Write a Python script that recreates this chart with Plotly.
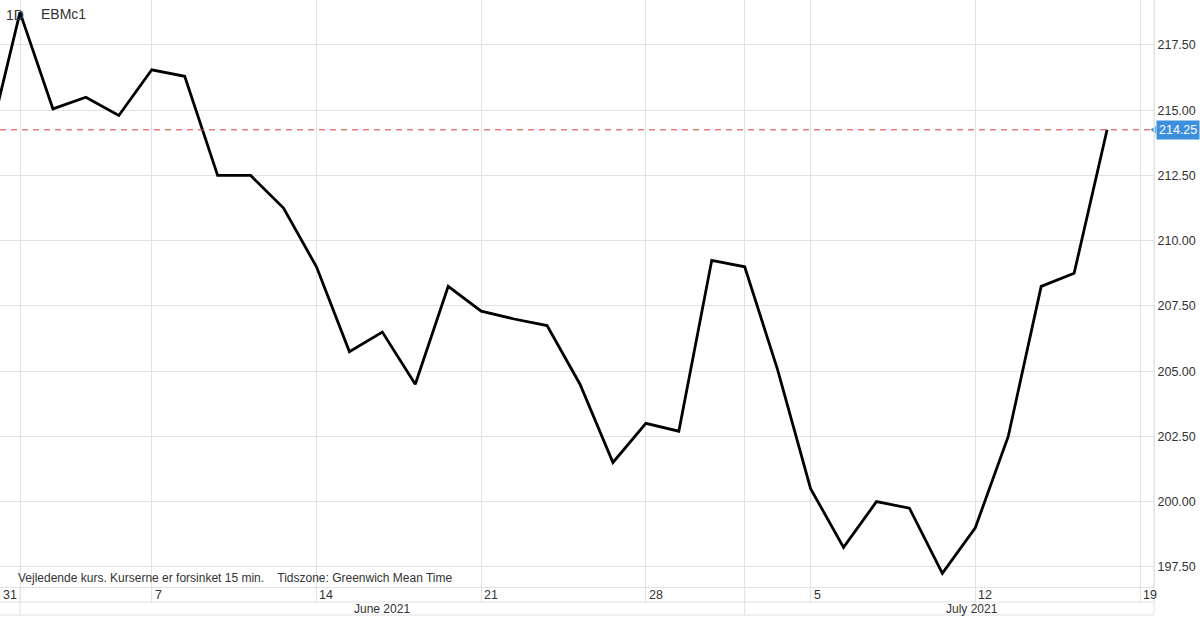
import plotly.graph_objects as go

# ---------------- data ----------------
dates = ["2021-05-28", "2021-06-01", "2021-06-02", "2021-06-03", "2021-06-04",
         "2021-06-07", "2021-06-08", "2021-06-09", "2021-06-10", "2021-06-11",
         "2021-06-14", "2021-06-15", "2021-06-16", "2021-06-17", "2021-06-18",
         "2021-06-21", "2021-06-22", "2021-06-23", "2021-06-24", "2021-06-25",
         "2021-06-28", "2021-06-29", "2021-06-30", "2021-07-01", "2021-07-02",
         "2021-07-05", "2021-07-06", "2021-07-07", "2021-07-08", "2021-07-09",
         "2021-07-12", "2021-07-13", "2021-07-14", "2021-07-15", "2021-07-16"]
prices = [213.5, 218.75, 215.05, 215.5, 214.8,
          216.55, 216.3, 212.5, 212.5, 211.25,
          209.0, 205.75, 206.5, 204.5, 208.25,
          207.3, 207.0, 206.75, 204.5, 201.5,
          203.0, 202.7, 209.25, 209.0, 205.05,
          200.5, 198.25, 200.0, 199.75, 197.25,
          199.0, 202.5, 208.25, 208.75, 214.25]

week_dates = ["2021-06-01", "2021-06-07", "2021-06-14", "2021-06-21",
              "2021-06-28", "2021-07-05", "2021-07-12", "2021-07-19"]
week_labels = ["31", "7", "14", "21", "28", "5", "12", "19"]
month_dates = ["2021-06-01", "2021-07-01"]
month_labels = ["June 2021", "July 2021"]
y_ticks = [197.5, 200.0, 202.5, 205.0, 207.5, 210.0, 212.5, 215.0, 217.5]
symbol = "EBMc1"
interval = "1D"
footnote = "Vejledende kurs. Kurserne er forsinket 15 min.    Tidszone: Greenwich Mean Time"


def trading_index(d):
    # position on a trading-day axis (weekends / holidays removed)
    return sum(1 for x in dates if x < d)


xs = [trading_index(d) for d in dates]
week_pos = [trading_index(d) for d in week_dates]
month_pos = [trading_index(d) for d in month_dates]
last_price = prices[-1]

# ---------------- styling ----------------
FONT = "Liberation Sans, Arial, Helvetica, sans-serif"
GRID = "#e2e2e2"
TXT = "#333333"
BLUE = "#3b8fdc"
X_RANGE = [0.393, 35.425]
Y_RANGE = [196.73, 219.224]
PLOT_H = 587.0

fig = go.Figure()
fig.add_trace(go.Scatter(
    x=xs, y=prices, mode="lines",
    line=dict(color="#000000", width=2.8),
    hoverinfo="skip", showlegend=False,
))
# small pointer of the last price tag
fig.add_trace(go.Scatter(
    x=[X_RANGE[1]], y=[last_price], mode="markers",
    marker=dict(symbol="triangle-left", size=7, color=BLUE),
    cliponaxis=False, hoverinfo="skip", showlegend=False,
))

shapes = [
    # last price dashed line
    dict(type="line", xref="paper", x0=0, x1=1, yref="y", y0=last_price, y1=last_price,
         line=dict(color="#d4403a", width=1, dash="6px,5px"), layer="above"),
    # rows of the date axis
    dict(type="line", xref="paper", x0=0, x1=1, yref="paper", y0=-15 / PLOT_H, y1=-15 / PLOT_H,
         line=dict(color=GRID, width=1)),
    dict(type="line", xref="paper", x0=0, x1=1, yref="paper", y0=-28 / PLOT_H, y1=-28 / PLOT_H,
         line=dict(color=GRID, width=1)),
    dict(type="line", xref="paper", x0=1, x1=1, yref="paper", y0=-28 / PLOT_H, y1=1,
         line=dict(color=GRID, width=1)),
]
for mp in month_pos:
    shapes.append(dict(type="line", xref="x", x0=mp, x1=mp, yref="paper",
                       y0=-28 / PLOT_H, y1=0, line=dict(color=GRID, width=1)))

annotations = []
for i, (p, lab) in enumerate(zip(week_pos, week_labels)):
    if i == 0:
        annotations.append(dict(xref="paper", x=0, xanchor="left", xshift=1,
                                yref="paper", y=-7.5 / PLOT_H, yanchor="middle",
                                text=lab, showarrow=False,
                                font=dict(family=FONT, size=12.5, color=TXT)))
    else:
        annotations.append(dict(xref="x", x=p, xanchor="left", xshift=1,
                                yref="paper", y=-7.5 / PLOT_H, yanchor="middle",
                                text=lab, showarrow=False,
                                font=dict(family=FONT, size=12.5, color=TXT)))

month_centers = [(month_pos[0] + month_pos[1]) / 2.0, 29.9]
for c, lab in zip(month_centers, month_labels):
    annotations.append(dict(xref="x", x=c, xanchor="center",
                            yref="paper", y=-21.5 / PLOT_H, yanchor="middle",
                            text=lab, showarrow=False,
                            font=dict(family=FONT, size=12, color=TXT)))

annotations += [
    dict(xref="paper", x=0, xanchor="left", xshift=4, yref="paper", y=1 - 15 / PLOT_H,
         yanchor="middle", text=interval, showarrow=False,
         font=dict(family=FONT, size=14, color=TXT)),
    dict(xref="paper", x=0, xanchor="left", xshift=39, yref="paper", y=1 - 14 / PLOT_H,
         yanchor="middle", text=symbol, showarrow=False,
         font=dict(family=FONT, size=14, color=TXT)),
    dict(xref="paper", x=0, xanchor="left", xshift=16, yref="paper", y=9 / PLOT_H,
         yanchor="middle", text=footnote, showarrow=False,
         font=dict(family=FONT, size=12, color=TXT)),
    dict(xref="paper", x=1, xanchor="left", xshift=2, yref="y", y=last_price,
         yanchor="middle", text=f"{last_price:.2f}", showarrow=False,
         bgcolor=BLUE, borderpad=2,
         font=dict(family=FONT, size=12.5, color="#ffffff")),
]

fig.update_layout(
    width=1200, height=617,
    margin=dict(l=0, r=46, t=0, b=30),
    paper_bgcolor="#ffffff", plot_bgcolor="#ffffff",
    font=dict(family=FONT, size=12.5, color=TXT),
    shapes=shapes, annotations=annotations,
    showlegend=False,
    xaxis=dict(range=X_RANGE, tickvals=sorted(set(week_pos + month_pos)),
               showticklabels=False, showgrid=True, gridcolor=GRID, gridwidth=1,
               ticks="outside", ticklen=15, tickcolor=GRID, tickwidth=1,
               showline=True, linecolor=GRID, zeroline=False, fixedrange=True),
    yaxis=dict(range=Y_RANGE, side="right", tickvals=y_ticks,
               ticktext=[f"{v:.2f}" for v in y_ticks],
               showgrid=True, gridcolor=GRID, gridwidth=1, ticks="",
               showline=True, linecolor=GRID, zeroline=False, fixedrange=True,
               tickfont=dict(family=FONT, size=12.5, color=TXT)),
)

fig.write_html("out.html", config={"displayModeBar": False},
               post_script="document.body.style.margin='0';document.body.style.overflow='hidden';")
